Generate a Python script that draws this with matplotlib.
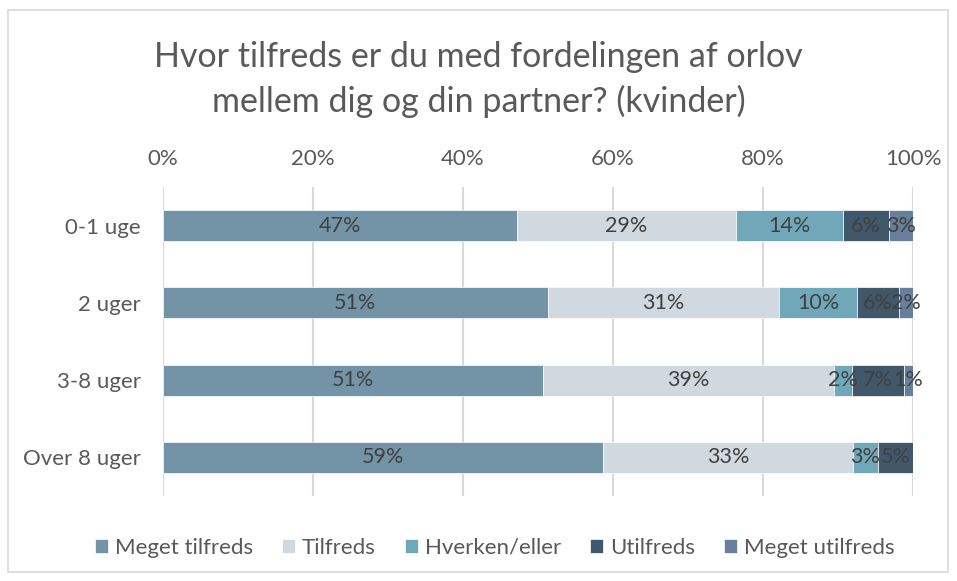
import numpy as np
import matplotlib.pyplot as plt
from matplotlib.patches import Rectangle

DPI = 100

# Data (percent shares per group)
groups = ['0-1 uge', '2 uger', '3-8 uger', 'Over 8 uger']
series = ['Meget tilfreds', 'Tilfreds', 'Hverken/eller', 'Utilfreds', 'Meget utilfreds']
meget_tilfreds = [47.2, 51.3, 50.6, 58.7]
tilfreds = [29.2, 30.9, 38.9, 33.3]
hverken = [14.3, 10.3, 2.4, 3.3]
utilfreds = [6.1, 5.6, 6.9, 4.7]
meget_utilfreds = [3.2, 1.9, 1.2, 0.0]
xticks = [0, 20, 40, 60, 80, 100]

values = [meget_tilfreds, tilfreds, hverken, utilfreds, meget_utilfreds]
colors = ['#7393A7', '#D1D9E0', '#70A8BA', '#41576A', '#677F9A']

plt.rcParams['font.family'] = ['Lato', 'DejaVu Sans']

fig = plt.figure(figsize=(957 / DPI, 581 / DPI), dpi=DPI)
ax = fig.add_axes([163 / 957, 1 - 496 / 581, 750 / 957, 309 / 581])

y = np.arange(len(groups))
left = np.zeros(len(groups))
for name, vals, col in zip(series, values, colors):
    vals = np.array(vals)
    ax.barh(y, vals, left=left, height=0.4, color=col, edgecolor='white',
            linewidth=0.5, label=name, zorder=3)
    for yi, l, v in zip(y, left, vals):
        if v > 0:
            ax.text(l + v / 2, yi, f'{int(v + 0.5)}%', ha='center', va='center',
                    fontsize=15.5, color='#404040', zorder=4)
    left += vals

ax.set_xlim(0, 100)
ax.set_ylim(len(groups) - 0.5, -0.5)
ax.set_yticks(y)
ax.set_yticklabels(groups)
ax.set_xticks(xticks)
ax.set_xticklabels([f'{t}%' for t in xticks])
ax.xaxis.tick_top()
ax.tick_params(axis='x', length=0, pad=13, labelsize=16, labelcolor='#595959')
ax.tick_params(axis='y', length=0, pad=16, labelsize=16, labelcolor='#595959')
for s in ax.spines.values():
    s.set_visible(False)
ax.grid(axis='x', color='#D9D9D9', linewidth=1.5, zorder=0)
ax.set_axisbelow(True)

fig.text(0.5, 1 - 57 / 581, 'Hvor tilfreds er du med fordelingen af orlov',
         ha='center', va='center', fontsize=24.5, color='#595959')
fig.text(0.5, 1 - 101 / 581, 'mellem dig og din partner? (kvinder)',
         ha='center', va='center', fontsize=24.5, color='#595959')

fig.legend(loc='center', bbox_to_anchor=(0.517, 1 - 548 / 581), ncol=5, frameon=False,
           fontsize=16, labelcolor='#595959', handlelength=0.6, handleheight=0.6,
           handletextpad=0.3, columnspacing=1.3)

# chart border
fig.patches.append(Rectangle((8 / 957, 1 - 572 / 581), 940 / 957, 562 / 581,
                             transform=fig.transFigure, fill=False,
                             edgecolor='#D9D9D9', linewidth=1.2))

plt.savefig('out.png', dpi=DPI)
